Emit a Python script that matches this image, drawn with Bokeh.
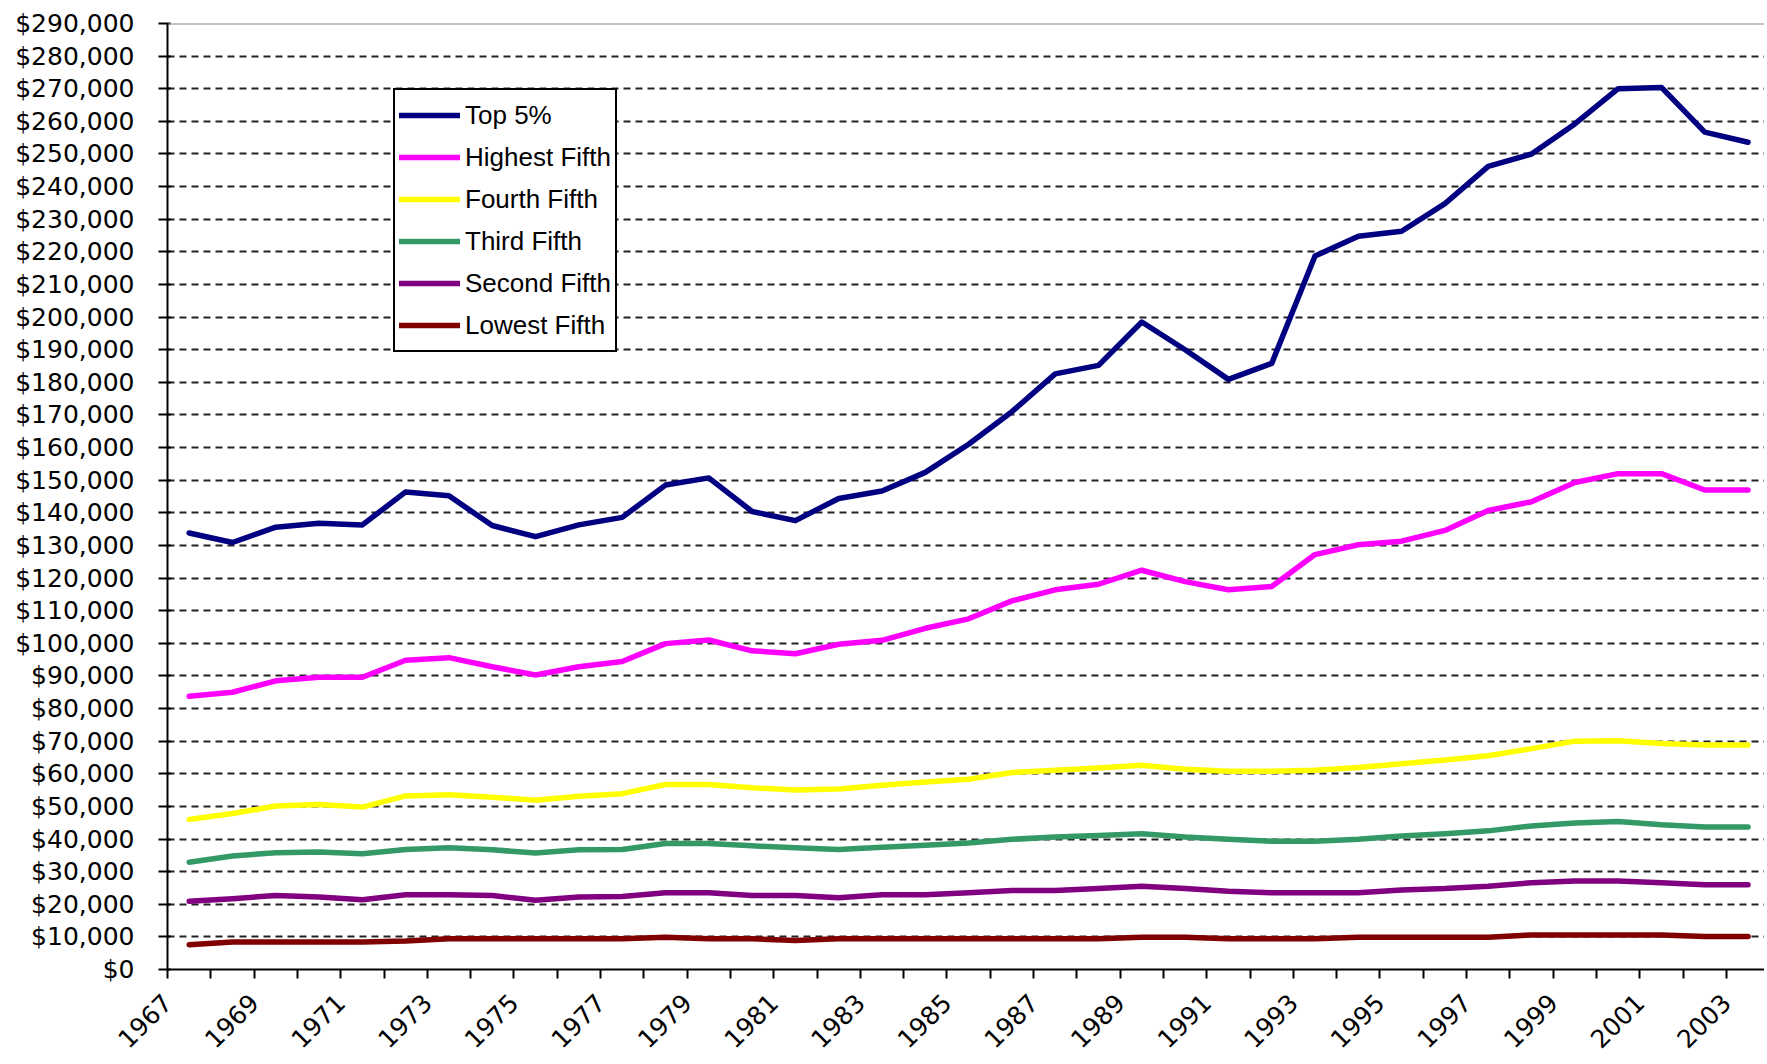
from bokeh.plotting import figure
from bokeh.models import (Range1d, FixedTicker, NumeralTickFormatter, Legend, LegendItem, Span)
from bokeh.embed import file_html
from bokeh.resources import INLINE
import math

years = list(range(1967, 2004))

top5 = [133.8, 130.9, 135.6, 136.8, 136.3, 146.4, 145.2, 136.1, 132.7, 136.3,
        138.6, 148.5, 150.7, 140.4, 137.6, 144.4, 146.7, 152.4, 161.0, 171.0,
        182.6, 185.2, 198.5, 190.0, 180.9, 185.8, 218.7, 224.8, 226.3, 234.8,
        246.2, 250.0, 259.2, 270.0, 270.4, 256.7, 253.6]
highest = [83.8, 85.0, 88.5, 89.6, 89.6, 94.8, 95.6, 92.8, 90.3, 92.8,
           94.4, 99.9, 101.0, 97.7, 96.8, 99.7, 100.9, 104.6, 107.5, 113.0,
           116.4, 118.1, 122.4, 118.9, 116.4, 117.4, 127.2, 130.2, 131.3, 134.6,
           140.7, 143.4, 149.3, 152.0, 152.0, 147.0, 147.0]
fourth = [46.0, 47.8, 50.1, 50.6, 49.8, 53.2, 53.6, 52.8, 51.9, 53.1,
          53.9, 56.7, 56.7, 55.7, 55.0, 55.3, 56.5, 57.5, 58.3, 60.4,
          61.1, 61.8, 62.6, 61.4, 60.8, 60.8, 61.1, 61.9, 63.1, 64.2,
          65.5, 67.7, 70.0, 70.1, 69.3, 68.8, 68.8]
third = [32.9, 34.8, 35.8, 36.0, 35.5, 36.8, 37.3, 36.7, 35.7, 36.7,
         36.8, 38.6, 38.6, 37.9, 37.3, 36.8, 37.5, 38.1, 38.8, 39.9,
         40.6, 41.1, 41.6, 40.6, 39.9, 39.3, 39.3, 39.9, 40.9, 41.6,
         42.5, 44.0, 44.9, 45.4, 44.4, 43.7, 43.7]
second = [20.9, 21.7, 22.7, 22.2, 21.4, 22.9, 22.9, 22.7, 21.2, 22.2,
          22.4, 23.5, 23.5, 22.7, 22.7, 22.0, 22.9, 22.9, 23.5, 24.2,
          24.2, 24.8, 25.5, 24.8, 24.0, 23.5, 23.5, 23.5, 24.4, 24.8,
          25.5, 26.6, 27.1, 27.1, 26.6, 26.0, 26.0]
lowest = [7.6, 8.4, 8.4, 8.4, 8.4, 8.7, 9.4, 9.4, 9.4, 9.4,
          9.4, 9.9, 9.4, 9.4, 8.9, 9.4, 9.4, 9.4, 9.4, 9.4,
          9.4, 9.4, 9.9, 9.9, 9.4, 9.4, 9.4, 9.9, 9.9, 9.9,
          9.9, 10.6, 10.6, 10.6, 10.6, 10.1, 10.1]

series_names = ["Top 5%", "Highest Fifth", "Fourth Fifth", "Third Fifth",
                "Second Fifth", "Lowest Fifth"]
series_values = [top5, highest, fourth, third, second, lowest]
series_colors = ["#000080", "#FF00FF", "#FFFF00", "#339966", "#800080", "#800000"]

y_ticks = list(range(0, 290001, 10000))

xs = [y - years[0] + 0.5 for y in years]

p = figure(width=1764, height=1064, output_backend="svg", toolbar_location=None,
           x_range=Range1d(0, 36.88), y_range=Range1d(0, 290000),
           min_border_left=167, min_border_top=23, min_border_bottom=95,
           min_border_right=0)
p.background_fill_color = "white"
p.border_fill_color = "white"
p.outline_line_color = None

# gridlines
p.xgrid.grid_line_color = None
p.ygrid.ticker = FixedTicker(ticks=y_ticks[1:-1])
p.ygrid.grid_line_color = "#222222"
p.ygrid.grid_line_dash = "7 5"
p.ygrid.grid_line_width = 1.8

p.add_layout(Span(location=290000, dimension="width", line_color="#8a8a8a", line_width=2))

# y axis
p.yaxis.ticker = FixedTicker(ticks=y_ticks)
p.yaxis.formatter = NumeralTickFormatter(format="$0,0")
p.yaxis.axis_line_color = "black"
p.yaxis.axis_line_width = 2
p.yaxis.major_tick_line_width = 2
p.yaxis.major_tick_in = 3
p.yaxis.major_tick_out = 9
p.yaxis.minor_tick_line_color = None
p.yaxis.major_label_standoff = 24
p.yaxis.major_label_text_font = "DejaVu Sans"
p.yaxis.major_label_text_font_size = "25px"
p.yaxis.major_label_text_color = "black"

# x axis: ticks at category boundaries, labels every second year
n_cat = len(years)
p.xaxis.ticker = FixedTicker(ticks=list(range(0, n_cat + 1)))
p.xaxis.major_label_overrides = {k: (str(years[k]) if (k % 2 == 0 and k < n_cat) else "")
                                 for k in range(0, n_cat + 1)}
p.xaxis.major_label_orientation = math.pi / 4
p.xaxis.axis_line_color = "black"
p.xaxis.axis_line_width = 2
p.xaxis.major_tick_line_width = 2
p.xaxis.major_tick_in = 0
p.xaxis.major_tick_out = 9
p.xaxis.minor_tick_line_color = None
p.xaxis.major_label_standoff = 20
p.xaxis.major_label_text_font = "DejaVu Sans"
p.xaxis.major_label_text_font_size = "25px"
p.xaxis.major_label_text_color = "black"

items = []
for name, vals, col in zip(series_names, series_values, series_colors):
    r = p.line(xs, [v * 1000 for v in vals], line_color=col, line_width=5.5,
               line_join="round", line_cap="round")
    items.append(LegendItem(label=name, renderers=[r]))

legend = Legend(items=items, location=(226, 617))
legend.label_text_font = "Liberation Sans"
legend.label_text_font_size = "26px"
legend.label_text_color = "black"
legend.glyph_width = 61
legend.glyph_height = 42
legend.label_height = 42
legend.label_standoff = 5
legend.spacing = 0
legend.padding = 4
legend.margin = 0
legend.border_line_color = "black"
legend.border_line_width = 2
legend.border_line_alpha = 1.0
legend.background_fill_color = "white"
legend.background_fill_alpha = 1.0
p.add_layout(legend, "center")

open("out.html", "w").write(file_html(p, INLINE))
